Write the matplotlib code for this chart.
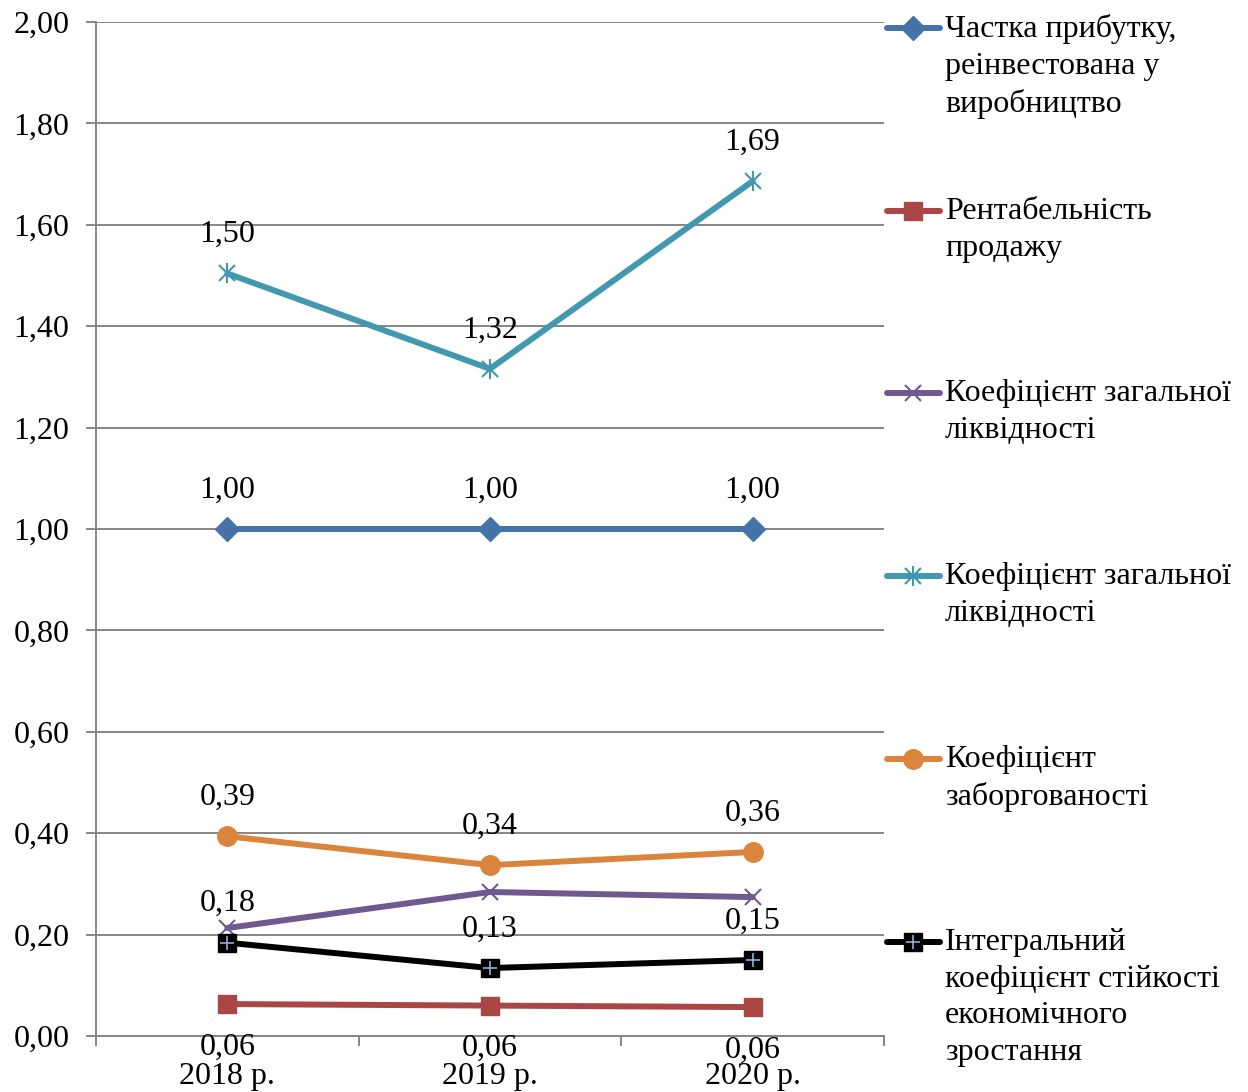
import matplotlib.pyplot as plt
from matplotlib.lines import Line2D

plt.rcParams['font.family'] = ['Liberation Serif', 'DejaVu Serif']

# -----------------------------
# Data
# -----------------------------
years = ['2018 р.', '2019 р.', '2020 р.']
y_ticks = [0.0, 0.2, 0.4, 0.6, 0.8, 1.0, 1.2, 1.4, 1.6, 1.8, 2.0]

reinvest_share = [1.00, 1.00, 1.00]
sales_profitability = [0.063, 0.060, 0.057]
liquidity_a = [0.213, 0.284, 0.274]
liquidity_b = [1.504, 1.316, 1.686]
debt_ratio = [0.394, 0.337, 0.363]
integral_ratio = [0.184, 0.134, 0.150]

names = [
    'Частка прибутку,\nреінвестована у\nвиробництво',
    'Рентабельність\nпродажу',
    'Коефіцієнт загальної\nліквідності',
    'Коефіцієнт загальної\nліквідності',
    'Коефіцієнт\nзаборгованості',
    'Інтегральний\nкоефіцієнт стійкості\nекономічного\nзростання',
]

FS = 23
LW = 4.3

# label, values, color, markers [(marker, size, face, edge, mew)], label side
series = [
    (names[0], reinvest_share, '#4572A7',
     [('D', 12.5, '#4572A7', '#4572A7', 1)], 'above'),
    (names[1], sales_profitability, '#AA4643',
     [('s', 13, '#AA4643', '#AA4643', 1)], 'below'),
    (names[2], liquidity_a, '#71588F',
     [('x', 12, '#71588F', '#71588F', 1.5)], None),
    (names[3], liquidity_b, '#4198AF',
     [('x', 11, '#4198AF', '#4198AF', 1.5), ('|', 15, '#4198AF', '#4198AF', 1.5)], 'above'),
    (names[4], debt_ratio, '#DB843D',
     [('o', 14, '#DB843D', '#DB843D', 1)], 'above'),
    (names[5], integral_ratio, '#000000',
     [('s', 12.5, '#000000', '#000000', 1), ('+', 10, '#8FB0DA', '#8FB0DA', 1.2)], 'above'),
]

W, H = 1248, 1092
fig = plt.figure(figsize=(W / 100, H / 100), dpi=100)
ax = fig.add_axes([96 / W, 1 - 1036 / H, (884 - 96) / W, (1036 - 22) / H])

x = [0.5, 1.5, 2.5]
for label, vals, color, markers, side in series:
    ax.plot(x, vals, color=color, lw=LW, solid_capstyle='round', zorder=3)
    for m, ms, fc, ec, mew in markers:
        ax.plot(x, vals, ls='none', marker=m, ms=ms, mfc=fc, mec=ec, mew=mew, zorder=4)
    if side is None:
        continue
    dy = 28 if side == 'above' else -31
    for xi, v in zip(x, vals):
        ax.annotate(f'{v:.2f}'.replace('.', ','), (xi, v), xytext=(0, dy),
                    textcoords='offset points', ha='center', va='center',
                    fontsize=FS, zorder=5)

# axes styling
grid_c = '#868686'
ax.set_xlim(0, 3)
ax.set_ylim(0, 2)
ax.set_yticks(y_ticks)
ax.set_yticklabels([f'{t:.2f}'.replace('.', ',') for t in y_ticks], fontsize=FS)
ax.yaxis.grid(True, color=grid_c, lw=1.4)
ax.set_axisbelow(True)
ax.tick_params(axis='y', length=7, width=1.4, color=grid_c, pad=12)
ax.set_xticks([0, 1, 2, 3])
ax.set_xticklabels([])
ax.set_xticks(x, minor=True)
ax.set_xticklabels(years, minor=True, fontsize=FS)
ax.tick_params(axis='x', which='major', length=7, width=1.4, color=grid_c, direction='out')
ax.tick_params(axis='x', which='minor', length=0, pad=19)
for s in ['top', 'right']:
    ax.spines[s].set_visible(False)
for s in ['left', 'bottom']:
    ax.spines[s].set_color(grid_c)
    ax.spines[s].set_linewidth(1.4)

# legend drawn down the right side
leg_top = [28, 211, 393, 576, 759, 942]
for (label, vals, color, markers, side), yc in zip(series, leg_top):
    yf = 1 - yc / H
    fig.add_artist(Line2D([887 / W, 940 / W], [yf, yf], color=color, lw=LW,
                          solid_capstyle='round'))
    for m, ms, fc, ec, mew in markers:
        fig.add_artist(Line2D([913 / W], [yf], ls='none', marker=m, ms=ms,
                              mfc=fc, mec=ec, mew=mew))
    fig.text(945 / W, 1 - (yc - 14) / H, label, fontsize=FS, ha='left', va='top',
             linespacing=1.35)

fig.savefig('out.png', dpi=100)
